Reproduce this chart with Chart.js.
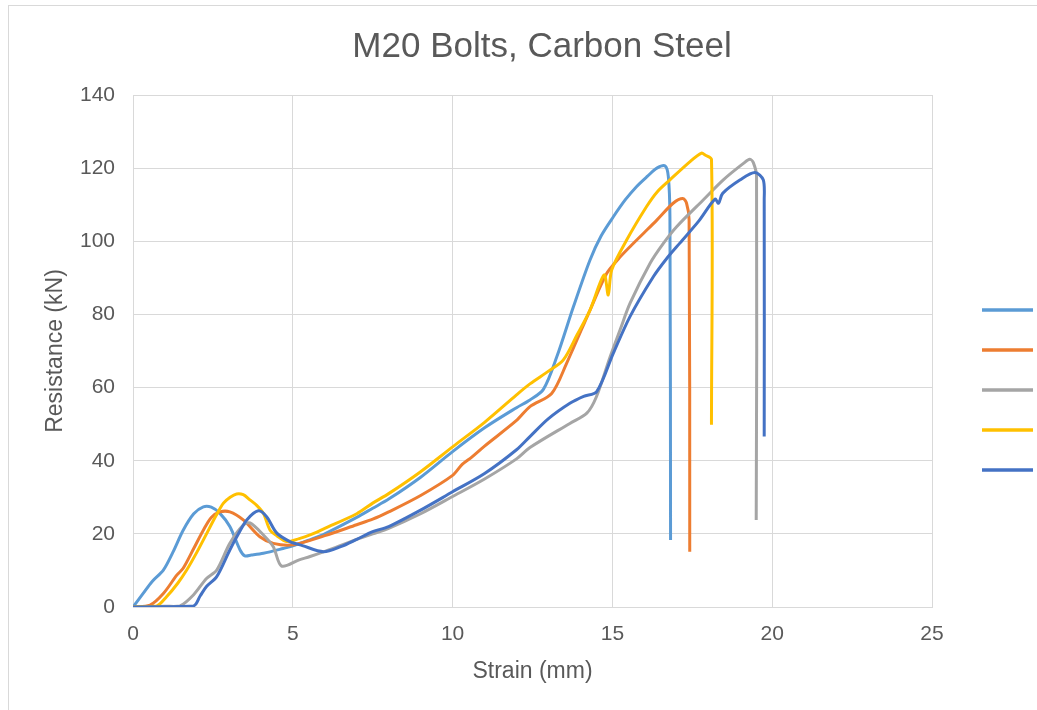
<!DOCTYPE html>
<html>
<head>
<meta charset="utf-8">
<title>M20 Bolts, Carbon Steel</title>
<script src="https://cdn.jsdelivr.net/npm/chart.js@4/dist/chart.umd.min.js"></script>
<style>
  html, body { margin: 0; padding: 0; background: #fff; overflow: hidden; }
  #frame { position: absolute; left: 8px; top: 5px; width: 1100px; height: 800px; border: 1px solid #d9d9d9; }
  #chart { position: absolute; left: 0; top: 0; }
</style>
</head>
<body>
<div id="frame"></div>
<canvas id="chart" width="1037" height="710"></canvas>
<script>
// Valeurs : déformation (mm) / résistance (kN)
const strainA = [0, 0.3, 0.6, 0.95, 1.25, 1.57, 1.9, 2.2, 2.45, 2.72, 3.03, 3.35, 3.5, 3.7, 4.08, 4.7, 5, 5.5, 6, 7, 7.5, 8, 9, 10, 11, 12, 12.42, 12.84, 13.26, 13.78, 14.3, 14.65, 15.03, 15.4, 15.76, 16.1, 16.39, 16.65, 16.75, 16.8, 16.82];
const resistA = [0, 3.5, 7, 10.1, 15, 21, 25.5, 27.4, 27.3, 25.6, 22, 15.6, 14, 14.2, 14.7, 16, 16.7, 18.3, 20, 24.5, 27, 29.5, 35.5, 42.5, 49, 54.5, 56.6, 59.5, 68.4, 82.1, 94.9, 101.5, 106.7, 111.3, 115, 117.8, 120, 120.6, 117.7, 106.7, 18.3];

const strainB = [0, 0.53, 0.95, 1.37, 1.57, 1.9, 2.2, 2.45, 2.72, 3.03, 3.45, 3.97, 4.39, 5, 6, 7, 7.5, 8, 9, 10, 10.3, 10.6, 11, 12, 12.42, 13.1, 13.57, 14.3, 14.82, 15.2, 15.55, 16.0, 16.39, 16.9, 17.2, 17.32, 17.4, 17.42];
const resistB = [0, 0.5, 3.7, 8.7, 10.6, 16, 21, 24.5, 26, 26, 23.8, 19.2, 17.4, 17, 19.5, 22.5, 24, 26, 30.5, 36, 39, 41, 44, 51, 54.8, 58.4, 66.7, 81.2, 91.2, 95.3, 98.5, 102.4, 105.8, 110.4, 111.7, 110.4, 105.8, 15.1];

const strainC = [0, 1.0, 1.47, 1.89, 2.3, 2.62, 3.03, 3.45, 3.66, 4.08, 4.39, 4.65, 5.2, 5.54, 6, 7, 7.5, 8, 9, 10, 11, 12, 12.42, 13.67, 14.2, 14.5, 14.93, 15.25, 15.55, 16.18, 16.6, 17.01, 17.84, 18.47, 19.1, 19.3, 19.41, 19.51, 19.5];
const resistC = [0, 0.2, 0.3, 3.3, 7.8, 10.1, 17.4, 22.4, 23, 19.7, 16.5, 11.2, 12.9, 13.8, 15.2, 18.5, 20, 21.5, 25.5, 30.2, 35, 40.5, 43.6, 50.2, 53, 57.5, 68.4, 76, 83, 94, 99.5, 104, 111.3, 116.8, 121.3, 122.4, 121.5, 117.7, 23.8];

const strainD = [0, 0.74, 1.05, 1.4, 1.68, 2.0, 2.3, 2.6, 2.83, 3.04, 3.24, 3.45, 3.66, 3.87, 4.08, 4.29, 4.5, 4.8, 5.2, 5.54, 6, 7, 7.5, 8, 9, 10, 11, 12, 12.42, 13.0, 13.46, 13.9, 14.3, 14.74, 14.87, 14.98, 15.45, 16.07, 16.4, 16.8, 17.43, 17.79, 17.9, 18.1, 18.1];
const resistD = [0, 0.3, 2.8, 6.5, 10.1, 15, 20, 25, 28.4, 30, 30.9, 30.7, 29.3, 27.8, 25.6, 21, 19.5, 17.9, 18.7, 19.7, 21.5, 25.5, 28.4, 31, 37, 43.8, 50.5, 58, 61, 64.5, 67.5, 74.5, 81.2, 90.8, 85.3, 92.2, 100.4, 109.5, 113.5, 116.8, 121.8, 124.1, 123.6, 122.4, 49.8];

const strainE = [0, 1.89, 2.1, 2.3, 2.62, 3.03, 3.3, 3.56, 3.92, 4.18, 4.5, 4.91, 5.3, 5.96, 6.5, 7, 7.5, 8, 9, 10, 11, 12, 12.42, 13.0, 13.67, 14.1, 14.51, 15.03, 15.55, 16.28, 16.7, 17.11, 17.7, 18.21, 18.32, 18.45, 19, 19.46, 19.72, 19.75, 19.75];
const resistE = [0, 0.3, 3, 5.6, 8.3, 15.6, 20, 23.8, 26.3, 24.7, 20.2, 17.9, 16.8, 15.1, 16.5, 18.5, 20.6, 22, 26.5, 31.5, 36.5, 43, 46.6, 51.5, 55.7, 57.6, 58.9, 69.4, 79.4, 90.3, 95.3, 99.5, 105.5, 111.5, 110.4, 113.1, 116.8, 118.8, 116.8, 111.3, 46.6];

const SERIES_COLORS = ['#5B9BD5', '#ED7D31', '#A5A5A5', '#FFC000', '#4472C4'];
const xTicks = [0, 5, 10, 15, 20, 25];
const yTicks = [0, 20, 40, 60, 80, 100, 120, 140];

const seriesX = [strainA, strainB, strainC, strainD, strainE];
const seriesY = [resistA, resistB, resistC, resistD, resistE];

const TEXT_COLOR = '#595959';
const GRID_COLOR = '#d9d9d9';
const FONT = 'Liberation Sans, Arial, sans-serif';

// Titre dessiné à la main pour le centrer comme dans Excel
const chartTitle = {
    id: 'chartTitle',
    afterDraw(chart) {
        const ctx = chart.ctx;
        ctx.save();
        ctx.fillStyle = TEXT_COLOR;
        ctx.font = '35px ' + FONT;
        ctx.textAlign = 'center';
        ctx.textBaseline = 'alphabetic';
        ctx.fillText('M20 Bolts, Carbon Steel', 542, 57);
        ctx.restore();
    }
};

// Légende : des traits seuls, sans texte (comme dans l'original)
const legendLines = {
    id: 'legendLines',
    afterDraw(chart) {
        const ctx = chart.ctx;
        ctx.save();
        ctx.lineWidth = 3.5;
        chart.data.datasets.forEach((ds, i) => {
            const y = 310 + i * 40;
            ctx.strokeStyle = ds.borderColor;
            ctx.beginPath();
            ctx.moveTo(982, y);
            ctx.lineTo(1033, y);
            ctx.stroke();
        });
        ctx.restore();
    }
};

const datasets = seriesX.map((xs, i) => ({
    label: '',
    data: xs.map((x, j) => ({ x: x, y: seriesY[i][j] })),
    borderColor: SERIES_COLORS[i],
    backgroundColor: SERIES_COLORS[i],
    borderWidth: 3,
    pointRadius: 0,
    showLine: true,
    tension: 0.3,
    order: 4 - i // la dernière série est dessinée au-dessus
}));

new Chart(document.getElementById('chart'), {
    type: 'scatter',
    data: { datasets: datasets },
    options: {
        responsive: false,
        animation: false,
        layout: { padding: { left: 0, right: 105, top: 95, bottom: 0 } },
        plugins: {
            legend: { display: false },
            tooltip: { enabled: false },
            title: { display: false }
        },
        scales: {
            x: {
                type: 'linear',
                min: 0,
                max: 25,
                afterBuildTicks: (scale) => { scale.ticks = xTicks.map(v => ({ value: v })); },
                afterFit: (scale) => { scale.height = 103; },
                ticks: { color: TEXT_COLOR, font: { family: FONT, size: 21 }, padding: 15, maxRotation: 0 },
                grid: { color: GRID_COLOR, drawTicks: false },
                border: { color: GRID_COLOR },
                title: { display: true, text: 'Strain (mm)', color: TEXT_COLOR, font: { family: FONT, size: 23 }, padding: 25 }
            },
            y: {
                type: 'linear',
                min: 0,
                max: 140,
                afterBuildTicks: (scale) => { scale.ticks = yTicks.map(v => ({ value: v })); },
                afterFit: (scale) => { scale.width = 133; },
                ticks: { color: TEXT_COLOR, font: { family: FONT, size: 21 }, padding: 18 },
                grid: { color: GRID_COLOR, drawTicks: false },
                border: { color: GRID_COLOR },
                title: { display: true, text: 'Resistance (kN)', color: TEXT_COLOR, font: { family: FONT, size: 23 }, padding: 42 }
            }
        }
    },
    plugins: [legendLines, chartTitle]
});
</script>
</body>
</html>
